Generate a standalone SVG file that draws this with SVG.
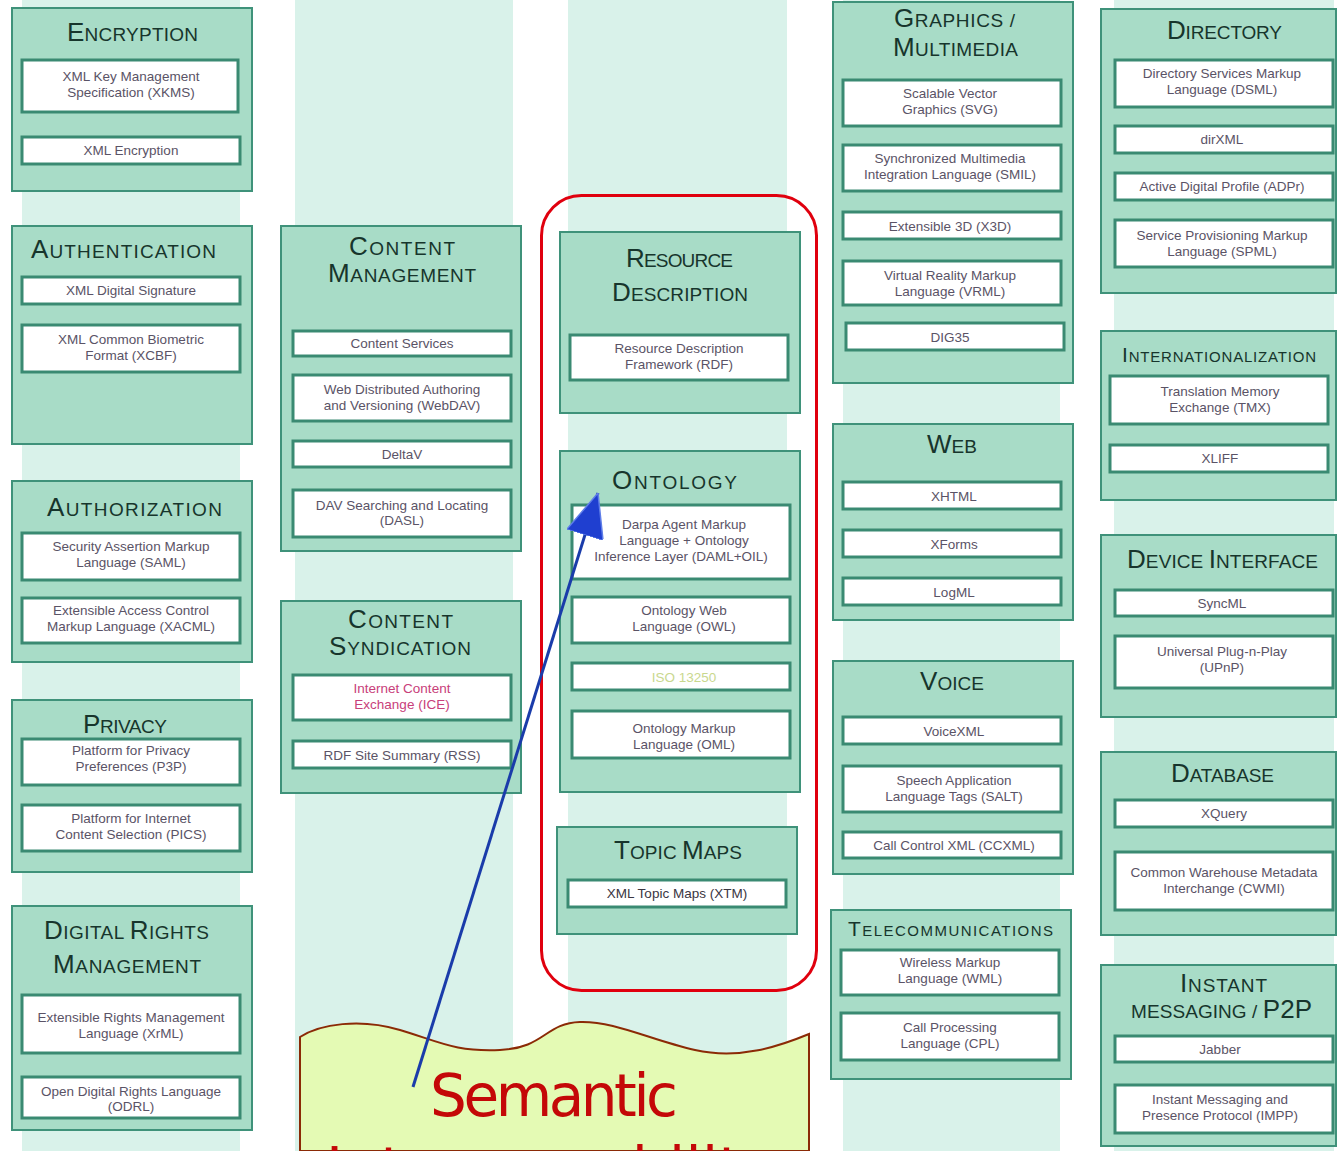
<svg xmlns="http://www.w3.org/2000/svg" width="1337" height="1151" viewBox="0 0 1337 1151">
<style>
.stripe{fill:#d9f2ea}
.panel{fill:#a8dcc7;stroke:#3f927a;stroke-width:2}
.item{fill:#ffffff;stroke:#3a8a72;stroke-width:3}
.ttl{font-family:"Liberation Sans",Arial,sans-serif;font-size:19px;fill:#17352c}
.ttl .c{font-size:26px}
.sm{font-size:15px}
.sm .c{font-size:21px}
.lbl{font-family:"Liberation Sans",Arial,sans-serif;font-size:13.5px;fill:#5a5366;text-anchor:middle}
.pink{fill:#c8407a}
.pale{fill:#c9d88e}
.semantic{font-family:"DejaVu Sans","Noto Sans",sans-serif;font-size:58px;fill:#c40808}
</style>
<defs>
<marker id="ah" markerUnits="userSpaceOnUse" viewBox="0 0 44 38" refX="44" refY="19" markerWidth="44" markerHeight="38" orient="auto">
<path d="M0,0 L44,19 L0,38 Z" fill="#1f3fd0" stroke="#5f7ee8" stroke-width="1.5"/>
</marker>
</defs>
<rect width="1337" height="1151" fill="#ffffff"/>
<g id="stripes">
<rect class="stripe" x="22" y="0" width="218" height="1151"/>
<rect class="stripe" x="295" y="0" width="218" height="1151"/>
<rect class="stripe" x="568" y="0" width="219" height="1151"/>
<rect class="stripe" x="843" y="0" width="217" height="1151"/>
<rect class="stripe" x="1114" y="0" width="220" height="1151"/>
</g>
<g id="semantic-group">
<rect x="541.5" y="195.5" width="275" height="795" rx="40" ry="40" fill="none" stroke="#e0000e" stroke-width="3"/>
</g>

<g id="encryption">
<rect class="panel" x="12" y="8" width="240" height="183"/>
<text class="ttl" x="67" y="41" textLength="131"><tspan class="c">E</tspan>NCRYPTION</text>
<rect class="item" x="22" y="60" width="216" height="52"/>
<text class="lbl" x="131" y="81">XML Key Management</text>
<text class="lbl" x="131" y="97">Specification (XKMS)</text>
<rect class="item" x="22" y="137" width="218" height="27"/>
<text class="lbl" x="131" y="155">XML Encryption</text>
</g>
<g id="authentication">
<rect class="panel" x="12" y="226" width="240" height="218"/>
<text class="ttl" x="31" y="258" textLength="185"><tspan class="c">A</tspan>UTHENTICATION</text>
<rect class="item" x="22" y="277" width="218" height="27"/>
<text class="lbl" x="131" y="295">XML Digital Signature</text>
<rect class="item" x="22" y="325" width="218" height="47"/>
<text class="lbl" x="131" y="344">XML Common Biometric</text>
<text class="lbl" x="131" y="360">Format (XCBF)</text>
</g>
<g id="authorization">
<rect class="panel" x="12" y="481" width="240" height="181"/>
<text class="ttl" x="47" y="516" textLength="175"><tspan class="c">A</tspan>UTHORIZATION</text>
<rect class="item" x="22" y="533" width="218" height="47"/>
<text class="lbl" x="131" y="551">Security Assertion Markup</text>
<text class="lbl" x="131" y="567">Language (SAML)</text>
<rect class="item" x="22" y="598" width="218" height="45"/>
<text class="lbl" x="131" y="615">Extensible Access Control</text>
<text class="lbl" x="131" y="631">Markup Language (XACML)</text>
</g>
<g id="privacy">
<rect class="panel" x="12" y="700" width="240" height="172"/>
<text class="ttl" x="83" y="733" textLength="84"><tspan class="c">P</tspan>RIVACY</text>
<rect class="item" x="22" y="739" width="218" height="46"/>
<text class="lbl" x="131" y="755">Platform for Privacy</text>
<text class="lbl" x="131" y="771">Preferences (P3P)</text>
<rect class="item" x="22" y="805" width="218" height="46"/>
<text class="lbl" x="131" y="823">Platform for Internet</text>
<text class="lbl" x="131" y="839">Content Selection (PICS)</text>
</g>
<g id="digital-rights-management">
<rect class="panel" x="12" y="906" width="240" height="224"/>
<text class="ttl" x="44" y="939" textLength="165"><tspan class="c">D</tspan>IGITAL <tspan class="c">R</tspan>IGHTS</text>
<text class="ttl" x="53" y="973" textLength="148"><tspan class="c">M</tspan>ANAGEMENT</text>
<rect class="item" x="22" y="995" width="218" height="58"/>
<text class="lbl" x="131" y="1022">Extensible Rights Management</text>
<text class="lbl" x="131" y="1038">Language (XrML)</text>
<rect class="item" x="22" y="1077" width="218" height="41"/>
<text class="lbl" x="131" y="1096">Open Digital Rights Language</text>
<text class="lbl" x="131" y="1111">(ODRL)</text>
</g>

<g id="content-management">
<rect class="panel" x="281" y="226" width="240" height="325"/>
<text class="ttl" x="349" y="255" textLength="106"><tspan class="c">C</tspan>ONTENT</text>
<text class="ttl" x="328" y="282" textLength="148"><tspan class="c">M</tspan>ANAGEMENT</text>
<rect class="item" x="293" y="331" width="218" height="25"/>
<text class="lbl" x="402" y="348">Content Services</text>
<rect class="item" x="293" y="375" width="218" height="46"/>
<text class="lbl" x="402" y="394">Web Distributed Authoring</text>
<text class="lbl" x="402" y="410">and Versioning (WebDAV)</text>
<rect class="item" x="293" y="441" width="218" height="26"/>
<text class="lbl" x="402" y="459">DeltaV</text>
<rect class="item" x="293" y="490" width="218" height="47"/>
<text class="lbl" x="402" y="510">DAV Searching and Locating</text>
<text class="lbl" x="402" y="525">(DASL)</text>
</g>
<g id="content-syndication">
<rect class="panel" x="281" y="601" width="240" height="192"/>
<text class="ttl" x="348" y="628" textLength="105"><tspan class="c">C</tspan>ONTENT</text>
<text class="ttl" x="329" y="655" textLength="142"><tspan class="c">S</tspan>YNDICATION</text>
<rect class="item" x="293" y="675" width="218" height="45"/>
<text class="lbl pink" x="402" y="693">Internet Content</text>
<text class="lbl pink" x="402" y="709">Exchange (ICE)</text>
<rect class="item" x="293" y="741" width="218" height="27"/>
<text class="lbl" x="402" y="760">RDF Site Summary (RSS)</text>
</g>

<g id="resource-description">
<rect class="panel" x="560" y="232" width="240" height="181"/>
<text class="ttl" x="626" y="267" textLength="107"><tspan class="c">R</tspan>ESOURCE</text>
<text class="ttl" x="612" y="301" textLength="136"><tspan class="c">D</tspan>ESCRIPTION</text>
<rect class="item" x="570" y="335" width="218" height="45"/>
<text class="lbl" x="679" y="353">Resource Description</text>
<text class="lbl" x="679" y="369">Framework (RDF)</text>
</g>
<g id="ontology">
<rect class="panel" x="560" y="451" width="240" height="341"/>
<text class="ttl" x="612" y="489" textLength="125"><tspan class="c">O</tspan>NTOLOGY</text>
<rect class="item" x="572" y="505" width="218" height="74"/>
<text class="lbl" x="684" y="529">Darpa Agent Markup</text>
<text class="lbl" x="684" y="545">Language + Ontology</text>
<text class="lbl" x="681" y="561">Inference Layer (DAML+OIL)</text>
<rect class="item" x="572" y="597" width="218" height="46"/>
<text class="lbl" x="684" y="615">Ontology Web</text>
<text class="lbl" x="684" y="631">Language (OWL)</text>
<rect class="item" x="572" y="663" width="218" height="27"/>
<text class="lbl pale" x="684" y="682">ISO 13250</text>
<rect class="item" x="572" y="711" width="218" height="47"/>
<text class="lbl" x="684" y="733">Ontology Markup</text>
<text class="lbl" x="684" y="749">Language (OML)</text>
</g>
<g id="topic-maps">
<rect class="panel" x="557" y="827" width="240" height="107"/>
<text class="ttl" x="614" y="859" textLength="128"><tspan class="c">T</tspan>OPIC <tspan class="c">M</tspan>APS</text>
<rect class="item" x="568" y="880" width="218" height="27"/>
<text class="lbl" x="677" y="898" style="fill:#3a3642">XML Topic Maps (XTM)</text>
</g>

<g id="graphics-multimedia">
<rect class="panel" x="833" y="2" width="240" height="381"/>
<text class="ttl" x="894" y="27" textLength="121"><tspan class="c">G</tspan>RAPHICS /</text>
<text class="ttl" x="893" y="56" textLength="125"><tspan class="c">M</tspan>ULTIMEDIA</text>
<rect class="item" x="843" y="80" width="218" height="46"/>
<text class="lbl" x="950" y="98">Scalable Vector</text>
<text class="lbl" x="950" y="114">Graphics (SVG)</text>
<rect class="item" x="843" y="145" width="218" height="46"/>
<text class="lbl" x="950" y="163">Synchronized Multimedia</text>
<text class="lbl" x="950" y="179">Integration Language (SMIL)</text>
<rect class="item" x="843" y="212" width="218" height="27"/>
<text class="lbl" x="950" y="231">Extensible 3D (X3D)</text>
<rect class="item" x="843" y="261" width="218" height="44"/>
<text class="lbl" x="950" y="280">Virtual Reality Markup</text>
<text class="lbl" x="950" y="296">Language (VRML)</text>
<rect class="item" x="846" y="323" width="218" height="27"/>
<text class="lbl" x="950" y="342">DIG35</text>
</g>
<g id="web">
<rect class="panel" x="833" y="424" width="240" height="196"/>
<text class="ttl" x="927" y="453" textLength="50"><tspan class="c">W</tspan>EB</text>
<rect class="item" x="843" y="482" width="218" height="27"/>
<text class="lbl" x="954" y="501">XHTML</text>
<rect class="item" x="843" y="530" width="218" height="27"/>
<text class="lbl" x="954" y="549">XForms</text>
<rect class="item" x="843" y="578" width="218" height="27"/>
<text class="lbl" x="954" y="597">LogML</text>
</g>
<g id="voice">
<rect class="panel" x="833" y="661" width="240" height="213"/>
<text class="ttl" x="920" y="690" textLength="64"><tspan class="c">V</tspan>OICE</text>
<rect class="item" x="843" y="717" width="218" height="27"/>
<text class="lbl" x="954" y="736">VoiceXML</text>
<rect class="item" x="843" y="766" width="218" height="46"/>
<text class="lbl" x="954" y="785">Speech Application</text>
<text class="lbl" x="954" y="801">Language Tags (SALT)</text>
<rect class="item" x="843" y="832" width="218" height="26"/>
<text class="lbl" x="954" y="850">Call Control XML (CCXML)</text>
</g>
<g id="telecommunications">
<rect class="panel" x="831" y="910" width="240" height="169"/>
<text class="ttl sm" x="848" y="936" textLength="205"><tspan class="c">T</tspan>ELECOMMUNICATIONS</text>
<rect class="item" x="841" y="950" width="218" height="45"/>
<text class="lbl" x="950" y="967">Wireless Markup</text>
<text class="lbl" x="950" y="983">Language (WML)</text>
<rect class="item" x="841" y="1013" width="218" height="47"/>
<text class="lbl" x="950" y="1032">Call Processing</text>
<text class="lbl" x="950" y="1048">Language (CPL)</text>
</g>

<g id="directory">
<rect class="panel" x="1101" y="9" width="235" height="284"/>
<text class="ttl" x="1167" y="39" textLength="115"><tspan class="c">D</tspan>IRECTORY</text>
<rect class="item" x="1115" y="60" width="218" height="47"/>
<text class="lbl" x="1222" y="78">Directory Services Markup</text>
<text class="lbl" x="1222" y="94">Language (DSML)</text>
<rect class="item" x="1115" y="126" width="218" height="27"/>
<text class="lbl" x="1222" y="144">dirXML</text>
<rect class="item" x="1115" y="173" width="218" height="27"/>
<text class="lbl" x="1222" y="191">Active Digital Profile (ADPr)</text>
<rect class="item" x="1115" y="220" width="218" height="47"/>
<text class="lbl" x="1222" y="240">Service Provisioning Markup</text>
<text class="lbl" x="1222" y="256">Language (SPML)</text>
</g>
<g id="internationalization">
<rect class="panel" x="1101" y="331" width="235" height="169"/>
<text class="ttl sm" x="1122" y="362" textLength="194"><tspan class="c">I</tspan>NTERNATIONALIZATION</text>
<rect class="item" x="1110" y="376" width="218" height="48"/>
<text class="lbl" x="1220" y="396">Translation Memory</text>
<text class="lbl" x="1220" y="412">Exchange (TMX)</text>
<rect class="item" x="1110" y="445" width="218" height="27"/>
<text class="lbl" x="1220" y="463">XLIFF</text>
</g>
<g id="device-interface">
<rect class="panel" x="1101" y="535" width="235" height="182"/>
<text class="ttl" x="1127" y="568" textLength="191"><tspan class="c">D</tspan>EVICE <tspan class="c">I</tspan>NTERFACE</text>
<rect class="item" x="1115" y="590" width="218" height="26"/>
<text class="lbl" x="1222" y="608">SyncML</text>
<rect class="item" x="1115" y="636" width="218" height="52"/>
<text class="lbl" x="1222" y="656">Universal Plug-n-Play</text>
<text class="lbl" x="1222" y="672">(UPnP)</text>
</g>
<g id="database">
<rect class="panel" x="1101" y="752" width="235" height="183"/>
<text class="ttl" x="1171" y="782" textLength="103"><tspan class="c">D</tspan>ATABASE</text>
<rect class="item" x="1115" y="800" width="218" height="27"/>
<text class="lbl" x="1224" y="818">XQuery</text>
<rect class="item" x="1115" y="852" width="218" height="58"/>
<text class="lbl" x="1224" y="877">Common Warehouse Metadata</text>
<text class="lbl" x="1224" y="893">Interchange (CWMI)</text>
</g>
<g id="instant-messaging">
<rect class="panel" x="1101" y="965" width="235" height="181"/>
<text class="ttl" x="1180" y="992" textLength="87"><tspan class="c">I</tspan>NSTANT</text>
<text class="ttl" x="1131" y="1018" textLength="181">MESSAGING / <tspan class="c">P2P</tspan></text>
<rect class="item" x="1115" y="1036" width="218" height="26"/>
<text class="lbl" x="1220" y="1054">Jabber</text>
<rect class="item" x="1115" y="1085" width="218" height="48"/>
<text class="lbl" x="1220" y="1104">Instant Messaging and</text>
<text class="lbl" x="1220" y="1120">Presence Protocol (IMPP)</text>
</g>

<g id="semantic-interoperability">
<path d="M300,1037 C320,1024 360,1018 400,1030 S455,1052 500,1050 S545,1023 580,1022 S650,1040 695,1050 S780,1046 809,1034 L809,1151 L300,1151 Z" fill="#e4fab4" stroke="#8b2a06" stroke-width="2"/>
<text class="semantic" x="430" y="1116" textLength="248">Semantic</text>
<text class="semantic" x="326" y="1189" textLength="450">Interoperability</text>
</g>

<g id="connectors">
<line x1="413" y1="1087" x2="598" y2="493" stroke="#1a3caa" stroke-width="3" marker-end="url(#ah)"/>
</g>
</svg>
